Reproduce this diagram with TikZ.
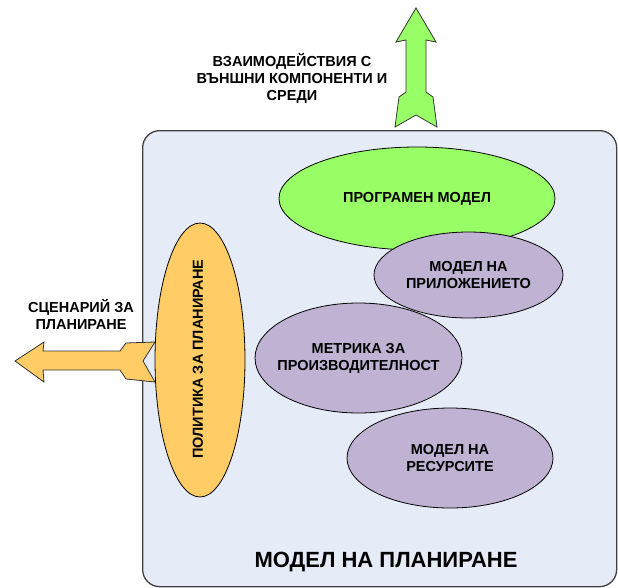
\documentclass[tikz,border=0pt]{standalone}
\usepackage{fontspec}
\setmainfont{Liberation Sans}
\usetikzlibrary{shapes.geometric}
\definecolor{panelfill}{RGB}{230,236,247}
\definecolor{panelline}{RGB}{64,64,64}
\definecolor{leafgreen}{RGB}{153,255,102}
\definecolor{lavender}{RGB}{191,178,210}
\definecolor{amber}{RGB}{255,204,102}
\begin{document}
\begin{tikzpicture}[x=1pt,y=-1pt,
  lbl/.style={font=\fontsize{14.5}{17}\selectfont\bfseries, align=center, inner sep=0pt},
  titlelbl/.style={font=\fontsize{22}{26}\selectfont\bfseries, inner sep=0pt},
  blob/.style={ellipse, draw=black, line width=0.8pt, inner sep=0pt},
  fatarrow/.style={draw=black!80, line width=0.8pt, line join=miter}]
\useasboundingbox (0,0) rectangle (618,587);

% planning model panel
\node[draw=panelline, fill=panelfill, line width=1.3pt, rounded corners=17pt,
      minimum width=474pt, minimum height=456pt, anchor=north west, inner sep=0pt]
      (panel) at (142,130) {};

% block arrows
\draw[fatarrow, fill=leafgreen] (416,8) -- (436,42) -- (426,40) -- (426,92) -- (433,97)
  -- (437,127) -- (416,115) -- (395,127) -- (399,97) -- (406,92) -- (406,40) -- (396,42) -- cycle;
\draw[fatarrow, fill=amber] (15,361) -- (44,342) -- (43,351) -- (120,351) -- (126,343)
  -- (155,342) -- (143,361) -- (155,382) -- (126,379) -- (120,370) -- (43,370) -- (44,382) -- cycle;

% component ellipses
\node[blob, fill=leafgreen, minimum width=276pt, minimum height=103pt] (prog) at (417,198.5) {};
\node[blob, fill=lavender, minimum width=189pt, minimum height=86pt] (appl) at (468.5,275) {};
\node[blob, fill=lavender, minimum width=207pt, minimum height=110pt] (metr) at (358.5,358) {};
\node[blob, fill=lavender, minimum width=206pt, minimum height=100pt] (res) at (450,458) {};
\node[blob, fill=amber, minimum width=90pt, minimum height=274pt] (pol) at (200,360) {};

% labels
\node[lbl] (progtxt) at (prog) {ПРОГРАМЕН МОДЕЛ};
\node[lbl] (appltxt) at (appl) {МОДЕЛ НА\\ПРИЛОЖЕНИЕТО};
\node[lbl] (metrtxt) at (metr) {МЕТРИКА ЗА\\ПРОИЗВОДИТЕЛНОСТ};
\node[lbl] (restxt) at (res) {МОДЕЛ НА\\РЕСУРСИТЕ};
\node[lbl, rotate=90] (poltxt) at (198,359) {ПОЛИТИКА ЗА ПЛАНИРАНЕ};
\node[lbl] (envtxt) at (292,78) {ВЗАИМОДЕЙСТВИЯ С\\ВЪНШНИ КОМПОНЕНТИ И\\СРЕДИ};
\node[lbl] (scentxt) at (81,314) {СЦЕНАРИЙ ЗА\\ПЛАНИРАНЕ};
\node[titlelbl] (title) at (386,562) {МОДЕЛ НА ПЛАНИРАНЕ};
\end{tikzpicture}
\end{document}
